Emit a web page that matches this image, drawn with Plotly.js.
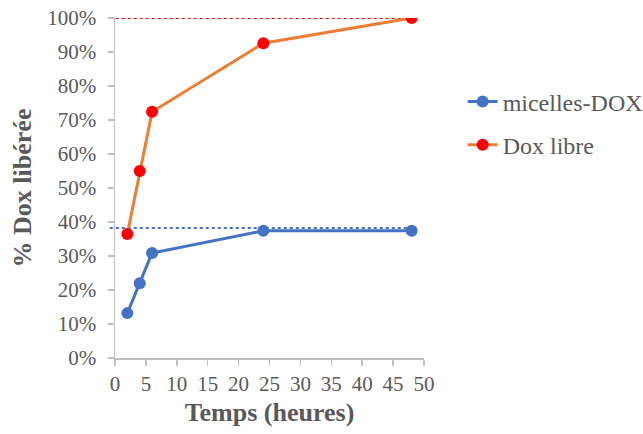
<!DOCTYPE html>
<html><head><meta charset="utf-8">
<script src="https://cdn.plot.ly/plotly-3.0.1.min.js"></script>
<style>body{margin:0}#c{width:643px;height:434px}</style>
</head><body><div id="c"></div>
<script>
const timesHours = [2, 4, 6, 24, 48];
const micellesDox = [0.132, 0.220, 0.309, 0.374, 0.374];
const doxLibre = [0.365, 0.550, 0.724, 0.926, 1.000];
const seriesNames = ['micelles-DOX', 'Dox libre'];
const refLevels = [0.382, 1.0];
const refEndX = 48;
const xTicks = [0,5,10,15,20,25,30,35,40,45,50];
const yTicks = [0,0.1,0.2,0.3,0.4,0.5,0.6,0.7,0.8,0.9,1.0];

const font = 'Liberation Serif';
const traces = [
  {x: timesHours, y: micellesDox, name: seriesNames[0], mode: 'lines+markers', legendgroup: 'a',
   line: {color: '#4472C4', width: 3}, marker: {color: '#4472C4', size: 12}},
  {x: timesHours, y: doxLibre, name: seriesNames[1], mode: 'lines+markers', legendgroup: 'b',
   line: {color: '#ED7D31', width: 3}, marker: {color: '#FF0000', size: 12}}
];
const refColors = ['#4472C4', '#FF0000'];
const shapes = refLevels.map((lv, i) => ({
  type: 'line', xref: 'paper', yref: 'y', x0: -0.017, x1: refEndX / 50, y0: lv, y1: lv,
  line: {color: refColors[i], width: 2, dash: 'dot'}, layer: 'below'
}));
const layout = {
  width: 643, height: 434,
  margin: {l: 115, r: 219, t: 18, b: 76, autoexpand: false},
  paper_bgcolor: '#fff', plot_bgcolor: '#fff',
  font: {family: font, color: '#595959', size: 21},
  showlegend: true,
  legend: {x: 1.125, y: 0.69, xanchor: 'left', yanchor: 'middle', traceorder: 'grouped',
    font: {family: font, size: 24, color: '#595959'}, tracegroupgap: 9, itemwidth: 30},
  xaxis: {range: [0, 50], tickvals: xTicks, ticks: 'outside', ticklen: 6, tickcolor: '#BFBFBF',
    tickwidth: 1.5, showline: true, linecolor: '#BFBFBF', linewidth: 1.5, showgrid: false,
    zeroline: false, tickfont: {family: font, size: 21, color: '#595959'},
    title: {text: '<b>Temps (heures)</b>', font: {family: font, size: 26, color: '#595959'}, standoff: 8}},
  yaxis: {range: [0, 1], tickvals: yTicks, tickformat: '.0%', ticks: 'outside', ticklen: 6,
    tickcolor: '#BFBFBF', tickwidth: 1.5, showline: true, linecolor: '#BFBFBF', linewidth: 1.5,
    showgrid: false, zeroline: false, tickfont: {family: font, size: 21, color: '#595959'},
    ticklabelstandoff: 7,
    title: {text: '<b>% Dox libérée</b>', font: {family: font, size: 26, color: '#595959'}, standoff: 8}},
  shapes: shapes
};
Plotly.newPlot('c', traces, layout, {displayModeBar: false, staticPlot: true});
</script></body></html>
